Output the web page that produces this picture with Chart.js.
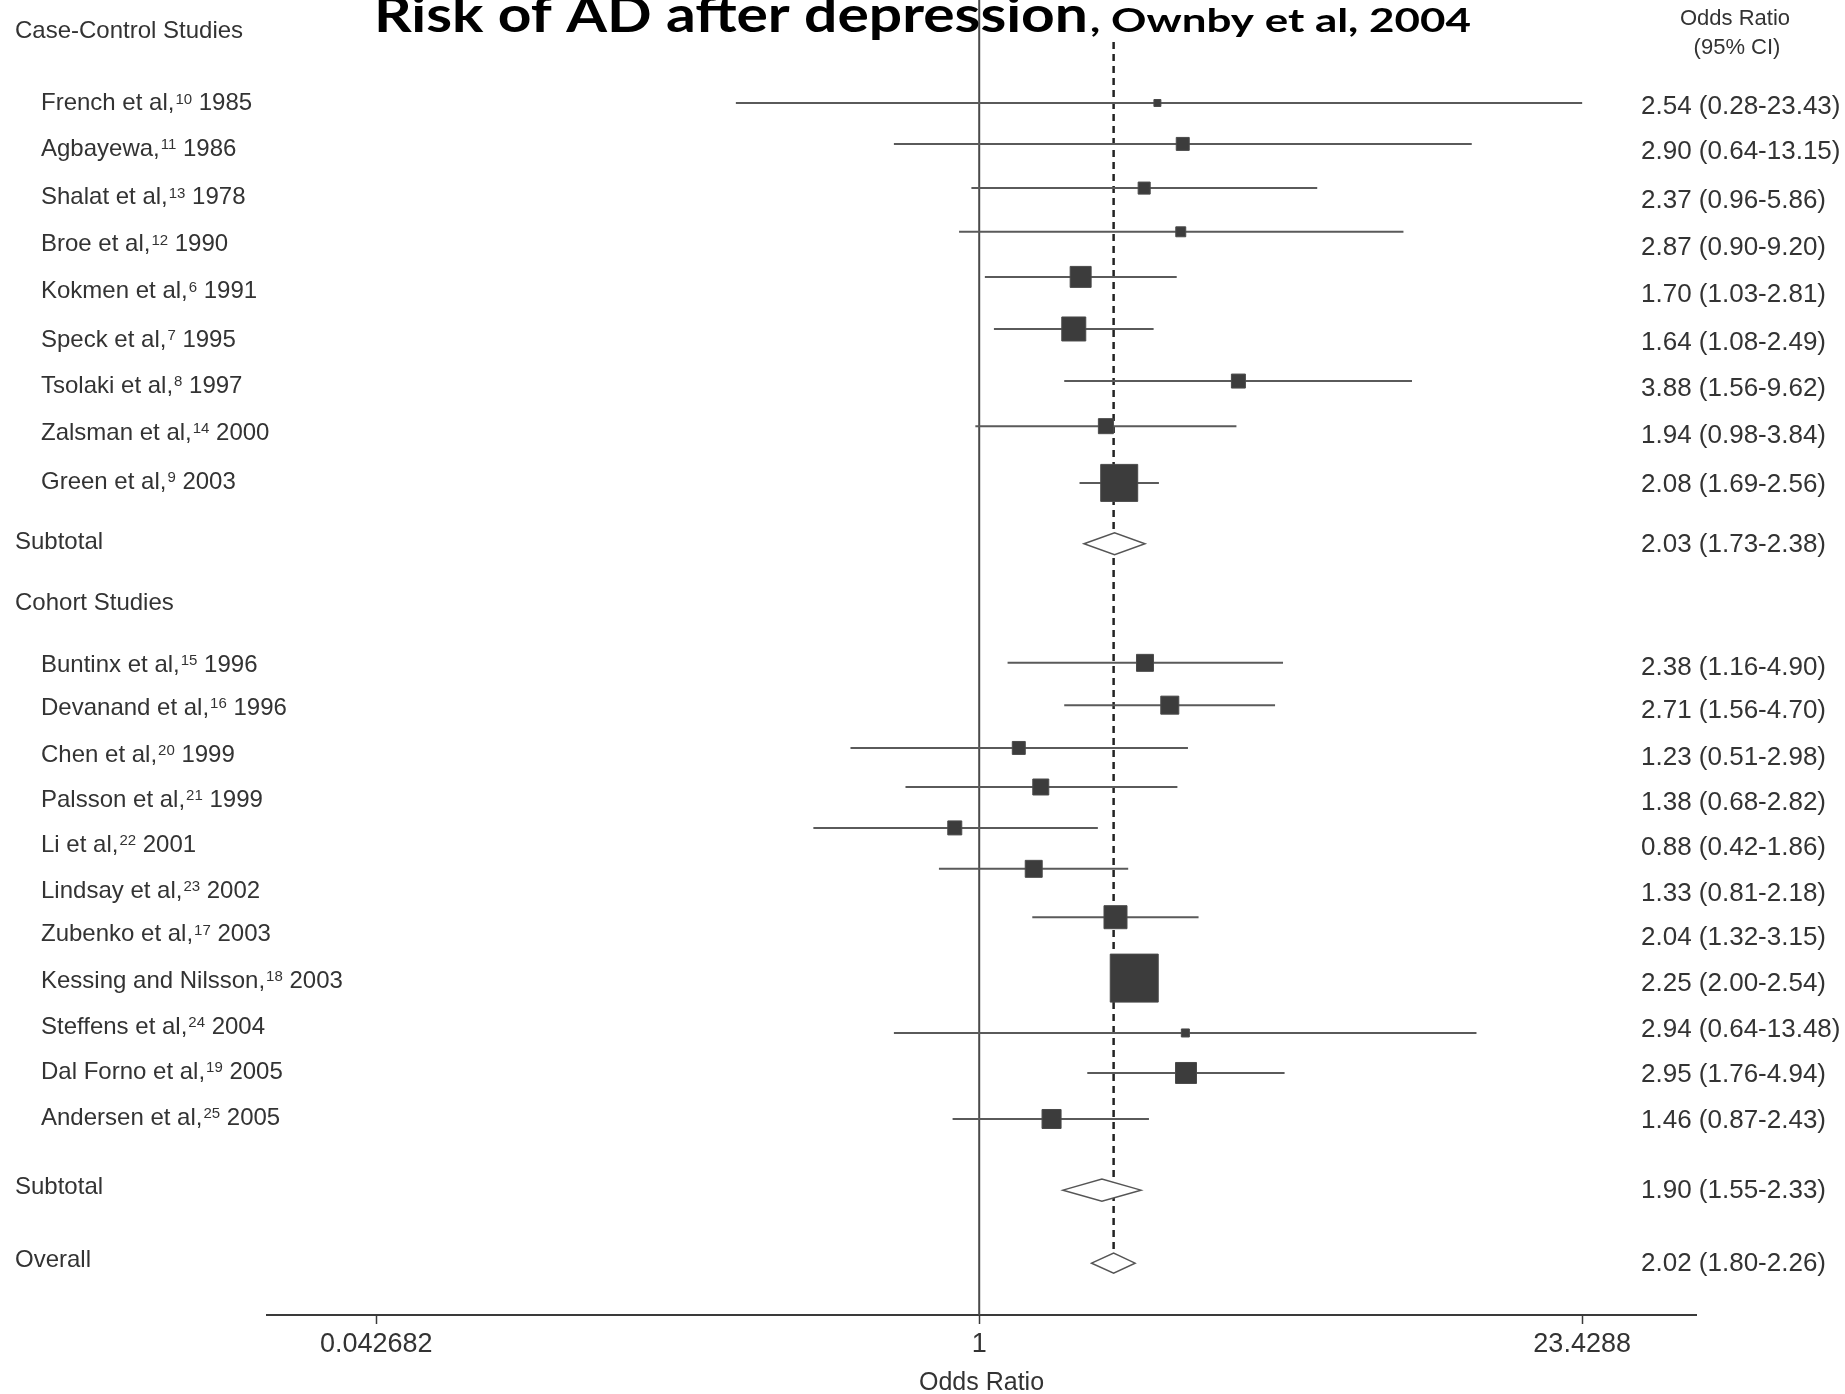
<!DOCTYPE html>
<html><head><meta charset="utf-8">
<script src="https://cdn.jsdelivr.net/npm/chart.js@4.4.1/dist/chart.umd.min.js"></script>
<style>html,body{margin:0;padding:0;background:#fff;overflow:hidden}#wrap{width:1845px;height:1394px;position:relative}</style>
</head><body><div id="wrap"><canvas id="c" width="1845" height="1394"></canvas></div>
<script>
// ---------- data ----------
const studyNames = ["French et al,","Agbayewa,","Shalat et al,","Broe et al,","Kokmen et al,","Speck et al,","Tsolaki et al,","Zalsman et al,","Green et al,",
  "Buntinx et al,","Devanand et al,","Chen et al,","Palsson et al,","Li et al,","Lindsay et al,","Zubenko et al,","Kessing and Nilsson,","Steffens et al,","Dal Forno et al,","Andersen et al,"];
const refNums = ["10","11","13","12","6","7","8","14","9","15","16","20","21","22","23","17","18","24","19","25"];
const years = ["1985","1986","1978","1990","1991","1995","1997","2000","2003","1996","1996","1999","1999","2001","2002","2003","2003","2004","2005","2005"];
const orValues = [2.54,2.90,2.37,2.87,1.70,1.64,3.88,1.94,2.08, 2.38,2.71,1.23,1.38,0.88,1.33,2.04,2.25,2.94,2.95,1.46];
const ciLow    = [0.28,0.64,0.96,0.90,1.03,1.08,1.56,0.98,1.69, 1.16,1.56,0.51,0.68,0.42,0.81,1.32,2.00,0.64,1.76,0.87];
const ciHigh   = [23.43,13.15,5.86,9.20,2.81,2.49,9.62,3.84,2.56, 4.90,4.70,2.98,2.82,1.86,2.18,3.15,2.54,13.48,4.94,2.43];
const relWeight = [2.1,7.3,6.3,4.3,19.1,25,8.5,9.8,59.4, 12.5,14.1,7.3,11.1,8.5,12.5,23,100,2.8,19.1,15.7]; // % of largest study
const pooledNames = ["Subtotal","Subtotal","Overall"];
const pooledOR  = [2.03,1.90,2.02];
const pooledLow = [1.73,1.55,1.80];
const pooledHigh= [2.38,2.33,2.26];
const groupNames = ["Case-Control Studies","Cohort Studies"];
const tickValues = [0.042682, 1, 23.4288];
const tickLabels = ["0.042682","1","23.4288"];

// ---------- layout (row positions in row units; marks and text rows as in the scanned figure) ----------
const studyRows  = [1,1.88,2.83,3.77,4.74,5.86,6.98,7.95,9.17, 13.04,13.95,14.87,15.71,16.59,17.47,18.51,19.82,21.0,21.86,22.85];
const pooledRows = [10.48,24.38,25.95];
const studyTextRows  = [1.01,1.99,3.04,4.05,5.06,6.1,7.09,8.1,9.15, 13.09,14.01,15.02,15.99,16.96,17.95,18.89,19.88,20.87,21.84,22.83];
const pooledTextRows = [10.44,24.33,25.9];
const groupRows  = [-0.55,11.77];

const TXT = '#333';
const FONT = '"Liberation Sans", Arial, sans-serif';
const fmt = (o,l,h)=>`${o.toFixed(2)} (${l.toFixed(2)}-${h.toFixed(2)})`;

const ciDatasets = orValues.map((v,i)=>({
  type:'line', order:2,
  data:[{x:ciLow[i],y:studyRows[i]},{x:ciHigh[i],y:studyRows[i]}],
  borderColor:'#5a5a5a', borderWidth:2, pointRadius:0, fill:false
}));
const squareDataset = {
  type:'scatter', order:0,
  data: orValues.map((v,i)=>({x:v,y:studyRows[i]})),
  pointStyle:'rect',
  pointRadius: relWeight.map(w=> (48*Math.sqrt(w/100))/Math.SQRT2),
  backgroundColor:'#3c3c3c', borderColor:'#4a4a4a', borderWidth:1
};

const forestPlugin = {
  id:'forest',
  beforeDatasetsDraw(chart){
    const {ctx, chartArea:a, scales:{x,y}} = chart;
    ctx.save();
    const x1 = x.getPixelForValue(1);
    ctx.strokeStyle='#4a4a4a'; ctx.lineWidth=2;
    ctx.beginPath(); ctx.moveTo(x1,a.top); ctx.lineTo(x1,a.bottom); ctx.stroke();
    const xo = x.getPixelForValue(pooledOR[2]);
    ctx.strokeStyle='#222'; ctx.lineWidth=2.5; ctx.setLineDash([7,5]);
    ctx.beginPath(); ctx.moveTo(xo,42); ctx.lineTo(xo,y.getPixelForValue(pooledRows[2])-10); ctx.stroke();
    ctx.setLineDash([]);
    ctx.restore();
  },
  afterDatasetsDraw(chart){
    const {ctx, scales:{x,y}} = chart;
    ctx.save();
    const halfH=[11,11,10];
    pooledOR.forEach((v,i)=>{
      const yc=y.getPixelForValue(pooledRows[i]);
      ctx.beginPath();
      ctx.moveTo(x.getPixelForValue(pooledLow[i]),yc);
      ctx.lineTo(x.getPixelForValue(v),yc-halfH[i]);
      ctx.lineTo(x.getPixelForValue(pooledHigh[i]),yc);
      ctx.lineTo(x.getPixelForValue(v),yc+halfH[i]);
      ctx.closePath();
      ctx.fillStyle='#fff'; ctx.fill();
      ctx.strokeStyle='#555'; ctx.lineWidth=1.5; ctx.stroke();
    });
    ctx.fillStyle=TXT; ctx.textBaseline='middle'; ctx.textAlign='left';
    ctx.font='24px '+FONT;
    groupNames.forEach((t,i)=>ctx.fillText(t,15,y.getPixelForValue(groupRows[i])));
    pooledNames.forEach((t,i)=>ctx.fillText(t,15,y.getPixelForValue(pooledTextRows[i])));
    studyNames.forEach((t,i)=>{
      const yy=y.getPixelForValue(studyTextRows[i]);
      let xx=41;
      ctx.font='24px '+FONT;
      ctx.fillText(t,xx,yy); xx+=ctx.measureText(t).width+1;
      ctx.font='15px '+FONT;
      ctx.fillText(refNums[i],xx,yy-4); xx+=ctx.measureText(refNums[i]).width;
      ctx.font='24px '+FONT;
      ctx.fillText(' '+years[i],xx,yy);
    });
    ctx.font='26px '+FONT;
    orValues.forEach((v,i)=>ctx.fillText(fmt(v,ciLow[i],ciHigh[i]),1641,y.getPixelForValue(studyTextRows[i])+3));
    pooledOR.forEach((v,i)=>ctx.fillText(fmt(v,pooledLow[i],pooledHigh[i]),1641,y.getPixelForValue(pooledTextRows[i])+3));
    ctx.textAlign='center';
    ctx.font='22px '+FONT;
    ctx.fillText('Odds Ratio',1735,19);
    ctx.fillText('(95% CI)',1737,48);
    ctx.textAlign='left'; ctx.textBaseline='alphabetic'; ctx.fillStyle='#000';
    const drawFit=(txt,font,x0,base,w)=>{
      ctx.font=font; const m=ctx.measureText(txt).width;
      ctx.save(); ctx.translate(x0,base); ctx.scale(w/m,1); ctx.fillText(txt,0,0); ctx.restore();
    };
    drawFit('Risk of AD after depression','bold 50px Lato, "Open Sans", sans-serif',374,32,714);
    drawFit(', Ownby et al, 2004','bold 32px Lato, "Open Sans", sans-serif',1090,32,381);
    ctx.restore();
  }
};

new Chart(document.getElementById('c'),{
  data:{datasets:[squareDataset,...ciDatasets]},
  options:{
    responsive:false, devicePixelRatio:1, animation:false,
    layout:{autoPadding:false,padding:{left:267,right:149,top:0,bottom:0}},
    plugins:{legend:{display:false},tooltip:{enabled:false},title:{display:false}},
    scales:{
      x:{type:'logarithmic',position:'bottom',min:0.0241,max:42.5,
        afterBuildTicks:(s)=>{s.ticks=tickValues.map(v=>({value:v}));},
        afterFit:(s)=>{s.height=79;},
        ticks:{autoSkip:false,maxRotation:0,padding:4,color:TXT,
          font:{family:FONT,size:27},
          callback:(v,i)=>tickLabels[i]},
        grid:{display:true,drawOnChartArea:false,drawTicks:true,tickLength:9,color:'#3a3a3a',tickWidth:1.5},
        border:{display:true,color:'#3a3a3a',width:2},
        title:{display:true,text:'Odds Ratio',color:TXT,padding:{top:0,bottom:0},
          font:{family:FONT,size:25,lineHeight:0.9}}
      },
      y:{type:'linear',display:false,reverse:true,min:-1.215,max:27.065}
    }
  },
  plugins:[forestPlugin]
});
</script></body></html>
